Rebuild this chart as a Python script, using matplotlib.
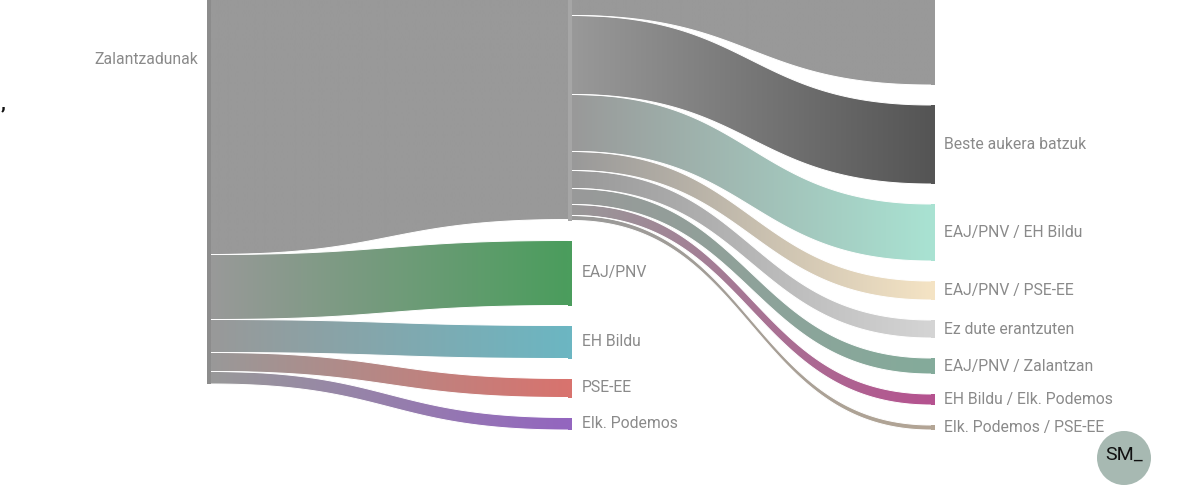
import numpy as np
import matplotlib.pyplot as plt
from matplotlib.patches import Polygon, Rectangle, Circle
from matplotlib.colors import to_rgb

plt.rcParams['font.family'] = ['Roboto', 'DejaVu Sans']

# columns of nodes, top to bottom
left_nodes = ["Zalantzadunak"]
mid_nodes = ["Zalantzadunak", "EAJ/PNV", "EH Bildu", "PSE-EE", "Elk. Podemos"]
right_nodes = ["Zalantzadunak", "Beste aukera batzuk", "EAJ/PNV / EH Bildu",
               "EAJ/PNV / PSE-EE", "Ez dute erantzuten", "EAJ/PNV / Zalantzan",
               "EH Bildu / Elk. Podemos", "Elk. Podemos / PSE-EE"]

# flows: left Zalantzadunak -> middle nodes
vals_1 = [519, 65, 33, 19, 12.5]
# flows: middle Zalantzadunak -> right nodes
vals_2 = [315, 79, 57, 19, 18, 16, 11, 5]

mid_colors = ["#999999", "#4b9d5d", "#6cb6c2", "#d8736e", "#9366bf"]
right_colors = ["#999999", "#555555", "#a9e2d2", "#f4e3c4", "#d4d4d4",
                "#84ab9b", "#b5528f", "#b3a595"]
gray = "#999999"
label_color = "#8a8a8a"
fs = 11.3

col_x = [207, 568, 931]
node_w = 4
pad = 20
col_bottom = [384, 430, 430]


def stack(values, bottom, gap):
    top = bottom - sum(values) - gap * (len(values) - 1)
    pos = []
    for v in values:
        pos.append((top, top + v))
        top += v + gap
    return pos


def bez(x0, x1, y0, y1, u):
    xm = (x0 + x1) / 2
    a, b, c, d = (1 - u) ** 3, 3 * u * (1 - u) ** 2, 3 * u ** 2 * (1 - u), u ** 3
    return x0 * a + xm * (b + c) + x1 * d, y0 * (a + b) + y1 * (c + d)


def draw_flow(ax, x0, x1, s, t, c0, c1):
    u = np.linspace(0, 1, 120)
    xt, yt = bez(x0, x1, s[0], t[0], u)
    xb, yb = bez(x0, x1, s[1], t[1], u)
    pts = np.vstack([np.column_stack([xt, yt]), np.column_stack([xb, yb])[::-1]])
    poly = Polygon(pts, closed=True, facecolor="none", edgecolor="none", zorder=2)
    ax.add_patch(poly)
    k = np.linspace(0, 1, 256)[:, None]
    grad = (1 - k) * np.array(to_rgb(c0)) + k * np.array(to_rgb(c1))
    im = ax.imshow(grad[None, :, :], extent=(x0, x1, pts[:, 1].max(), pts[:, 1].min()),
                   aspect="auto", interpolation="bilinear", zorder=1)
    im.set_clip_path(poly)
    # thin white separators along the curved edges
    ax.plot(xt, yt, color="white", lw=0.7, zorder=2)
    ax.plot(xb, yb, color="white", lw=0.7, zorder=2)


def label(ax, x, a, b, text, ha):
    yc = (a + b) / 2
    if 0 < yc < 500:
        ax.text(x, yc, text, ha=ha, va="center", fontsize=fs, color=label_color)


fig = plt.figure(figsize=(12, 5), dpi=100)
ax = fig.add_axes([0, 0, 1, 1])

left_pos = stack([sum(vals_1)], col_bottom[0], pad)
mid_pos = stack([sum(vals_2)] + vals_1[1:], col_bottom[1], pad)
right_pos = stack(vals_2, col_bottom[2], pad)

# left -> middle
y = left_pos[0][0]
for i, v in enumerate(vals_1):
    s = (y, y + v)
    t = (mid_pos[i][0], mid_pos[i][0] + v)
    draw_flow(ax, col_x[0] + node_w, col_x[1], s, t, gray, mid_colors[i])
    y += v

# middle -> right
y = mid_pos[0][0]
for i, v in enumerate(vals_2):
    s = (y, y + v)
    t = right_pos[i]
    draw_flow(ax, col_x[1] + node_w, col_x[2], s, t, gray, right_colors[i])
    y += v

# nodes
a, b = left_pos[0]
ax.add_patch(Rectangle((col_x[0], a), node_w, b - a,
                       facecolor="#8c8c8c", edgecolor="none", zorder=3))
label(ax, col_x[0] - 9, a, b, left_nodes[0], "right")
for i, (a, b) in enumerate(mid_pos):
    fc = "#a6a6a6" if i == 0 else mid_colors[i]
    ax.add_patch(Rectangle((col_x[1], a), node_w, b - a, facecolor=fc,
                           edgecolor="none", zorder=3))
    label(ax, col_x[1] + node_w + 10, a, b, mid_nodes[i], "left")
for i, (a, b) in enumerate(right_pos):
    ax.add_patch(Rectangle((col_x[2], a), node_w, b - a, facecolor=right_colors[i],
                           edgecolor="none", zorder=3))
    label(ax, col_x[2] + node_w + 9, a, b, right_nodes[i], "left")

# stray comma at the left edge of the screenshot
ax.text(1, 103, ",", ha="left", va="center", fontsize=14, fontweight="bold", color="#111111")

# logo
ax.add_patch(Circle((1124, 458), 27, facecolor="#a7b9b2", edgecolor="none", zorder=4))
ax.text(1124, 455, "SM_", ha="center", va="center", fontsize=14, color="#111111", zorder=5)

ax.set_xlim(0, 1200)
ax.set_ylim(500, 0)
ax.axis("off")
fig.savefig("out.png", dpi=100)
